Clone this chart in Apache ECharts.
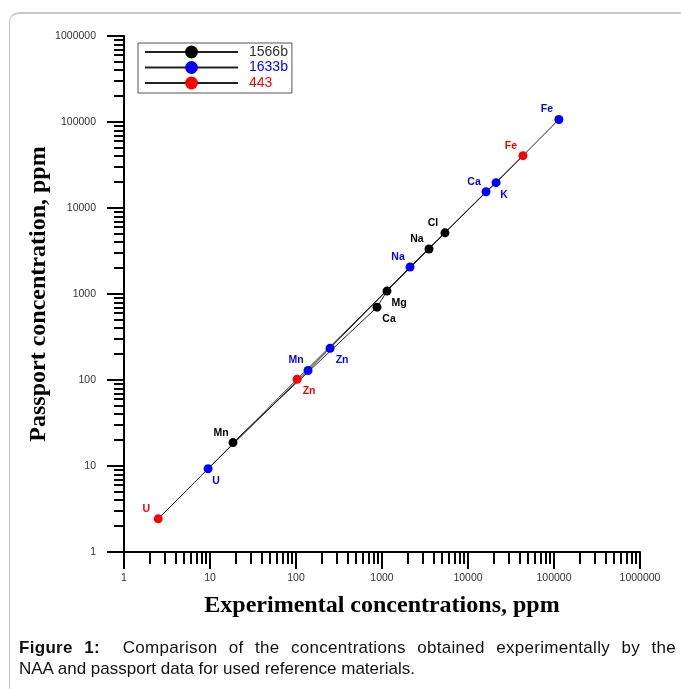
<!DOCTYPE html>
<html>
<head>
<meta charset="utf-8">
<script src="https://cdn.jsdelivr.net/npm/echarts@6/dist/echarts.min.js"></script>
<style>
  html, body { margin: 0; padding: 0; background: #fff; }
  #frame {
    position: absolute; left: 9px; top: 12px; width: 700px; height: 676px;
    border-left: 1.5px solid #c4c4c4; border-top: 2px solid #c8c8c8;
    border-top-left-radius: 10px;
  }
  #chart { position: absolute; left: 0; top: 0; width: 681px; height: 689px; }
  #caption {
    position: absolute; left: 19px; top: 637px; width: 657px;
    font: 17px "Liberation Sans", Arial, sans-serif; color: #111; line-height: 21px;
  }
  #caption .l1 { text-align: justify; text-align-last: justify; letter-spacing: 0.3px; }
</style>
</head>
<body>
<div id="frame"></div>
<div id="chart"></div>
<div id="caption">
  <div class="l1"><b>Figure 1:</b>&nbsp; Comparison of the concentrations obtained experimentally by the</div>
  <div>NAA and passport data for used reference materials.</div>
</div>
<script>
// decade ticks / labels
const decades = [1, 10, 100, 1000, 10000, 100000, 1000000];
const minorSteps = [2, 3, 4, 5, 6, 7, 8, 9];
const minorTicks = [];
decades.slice(0, -1).forEach(d => minorSteps.forEach(s => minorTicks.push(d * s)));

// 1566b
const names1566b = ['Mn', 'Ca', 'Mg', 'Na', 'Cl'];
const exp1566b = [18.5, 875, 1143, 3520, 5400];
const pass1566b = [18.7, 703, 1081, 3340, 5140];
// 1633b
const names1633b = ['U', 'Mn', 'Zn', 'Na', 'Ca', 'K', 'Fe'];
const exp1633b = [9.5, 138, 249, 2117, 16200, 21200, 114000];
const pass1633b = [9.3, 129, 234, 2060, 15450, 19700, 107000];
// 443
const names443 = ['U', 'Zn', 'Fe'];
const exp443 = [2.5, 103, 43600];
const pass443 = [2.43, 102, 40600];

// where each point label sits
const place1566b = ['tl', 'br', 'br', 'tl', 'tl'];
const place1633b = ['b', 'tl', 'br', 'tl', 'tl', 'b', 'tl'];
const place443 = ['tl', 'br', 'tl'];
const offsets = { tl: [-12, -10], br: [12, 12], b: [8, 12] };

function makeSeries(name, color, names, xs, ys, places) {
  return {
    name: name,
    type: 'line',
    data: xs.map((x, i) => ({
      value: [x, ys[i]],
      name: names[i],
      label: { offset: offsets[places[i]] }
    })),
    symbol: 'circle',
    symbolSize: 9,
    lineStyle: { color: '#222', width: 1 },
    itemStyle: { color: color },
    label: {
      show: true,
      position: 'inside',
      formatter: p => p.name,
      color: color,
      fontSize: 10.5,
      fontWeight: 'bold',
      fontFamily: 'Liberation Sans'
    },
    emphasis: { disabled: true },
    animation: false
  };
}

const axisFont = { fontFamily: 'Liberation Sans', fontSize: 10.5, color: '#333' };
const titleFont = { fontFamily: 'Liberation Serif', fontWeight: 'bold', fontSize: 24, color: '#000' };
const blackLine = { color: '#000', width: 2 };

const options = {
  animation: false,
  grid: { left: 124, right: 41, top: 36, bottom: 137, containLabel: false, outerBoundsMode: 'none' },
  legend: {
    orient: 'vertical',
    left: 138,
    top: 43,
    padding: [2, 4, 3, 6],
    borderColor: '#555',
    borderWidth: 1,
    itemWidth: 93,
    itemHeight: 16,
    itemGap: 1.5,
    selectedMode: false,
    textStyle: { fontSize: 14, fontFamily: 'Liberation Sans', padding: [0, 0, 0, 6] },
    data: [
      { name: '1566b', textStyle: { color: '#333' } },
      { name: '1633b', textStyle: { color: '#0000ff' } },
      { name: '443', textStyle: { color: '#ff0000' } }
    ]
  },
  xAxis: [
    {
      type: 'log', min: 1, max: 1000000, position: 'bottom',
      axisLine: { onZero: false, lineStyle: blackLine },
      axisTick: { length: 17, customValues: decades, lineStyle: blackLine },
      axisLabel: Object.assign({ customValues: decades, margin: 21, formatter: v => String(Math.round(v)) }, axisFont),
      splitLine: { show: false },
      name: 'Experimental concentrations, ppm',
      nameLocation: 'middle',
      nameGap: 42,
      nameMoveOverlap: false,
      nameTextStyle: titleFont
    },
    {
      type: 'log', min: 1, max: 1000000, position: 'bottom',
      axisLine: { show: false },
      axisTick: { length: 12, customValues: minorTicks, lineStyle: blackLine },
      axisLabel: { show: false },
      splitLine: { show: false }
    }
  ],
  yAxis: [
    {
      type: 'log', min: 1, max: 1000000, position: 'left',
      axisLine: { onZero: false, lineStyle: blackLine },
      axisTick: { length: 17, customValues: decades, lineStyle: blackLine },
      axisLabel: Object.assign({ customValues: decades, margin: 28, formatter: v => String(Math.round(v)) }, axisFont),
      splitLine: { show: false },
      name: 'Passport concentration, ppm',
      nameLocation: 'middle',
      nameGap: 73,
      nameMoveOverlap: false,
      nameTextStyle: titleFont
    },
    {
      type: 'log', min: 1, max: 1000000, position: 'left',
      axisLine: { show: false },
      axisTick: { length: 10, customValues: minorTicks, lineStyle: blackLine },
      axisLabel: { show: false },
      splitLine: { show: false }
    }
  ],
  series: [
    makeSeries('1566b', '#000000', names1566b, exp1566b, pass1566b, place1566b),
    makeSeries('1633b', '#0000ff', names1633b, exp1633b, pass1633b, place1633b),
    makeSeries('443', '#ff0000', names443, exp443, pass443, place443)
  ]
};

const chart = echarts.init(document.getElementById('chart'));
chart.setOption(options);
window.addEventListener('resize', () => chart.resize());
</script>
</body>
</html>
